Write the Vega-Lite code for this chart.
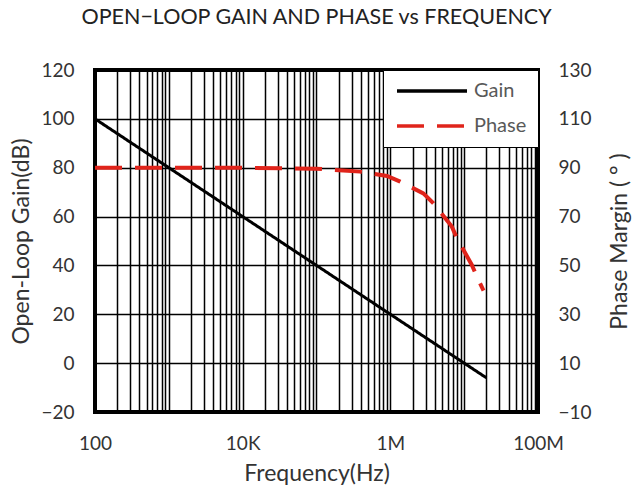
{
  "$schema": "https://vega.github.io/schema/vega-lite/v6.json",
  "width": 443,
  "height": 342,
  "autosize": {"type": "none"},
  "padding": {"left": 95, "top": 70, "right": 95, "bottom": 74},
  "background": "white",
  "title": {
    "text": "OPEN−LOOP GAIN AND PHASE vs FREQUENCY",
    "font": "Lato",
    "fontSize": 21.5,
    "fontWeight": "normal",
    "color": "#222222",
    "anchor": "middle",
    "offset": 33
  },
  "datasets": {
    "gain": [
      {"freq": 100, "gain": 100},
      {"freq": 1000, "gain": 80},
      {"freq": 10000, "gain": 60},
      {"freq": 100000, "gain": 40},
      {"freq": 1000000, "gain": 20},
      {"freq": 10000000, "gain": 0},
      {"freq": 20000000, "gain": -6}
    ],
    "phase": [
      {"freq": 100, "phase": 90},
      {"freq": 1000, "phase": 90},
      {"freq": 10000, "phase": 90},
      {"freq": 100000, "phase": 89.6},
      {"freq": 390000, "phase": 88.4},
      {"freq": 900000, "phase": 86.6},
      {"freq": 1360000, "phase": 84.3},
      {"freq": 2800000, "phase": 79.5},
      {"freq": 3840000, "phase": 75.4},
      {"freq": 6800000, "phase": 65.9},
      {"freq": 8000000, "phase": 61.1},
      {"freq": 12700000, "phase": 50.2},
      {"freq": 14900000, "phase": 45.4},
      {"freq": 18300000, "phase": 39.7}
    ]
  },
  "layer": [
    {
      "data": {"name": "gain"},
      "mark": {"type": "line", "strokeWidth": 3},
      "encoding": {
        "x": {
          "field": "freq",
          "type": "quantitative",
          "scale": {"type": "log", "domain": [100, 100000000], "nice": false},
          "axis": {
            "title": "Frequency(Hz)",
            "grid": true,
            "values": [100, 200, 300, 400, 500, 600, 700, 800, 900,
                       1000, 2000, 3000, 4000, 5000, 6000, 7000, 8000, 9000,
                       10000, 20000, 30000, 40000, 50000, 60000, 70000, 80000, 90000,
                       100000, 200000, 300000, 400000, 500000, 600000, 700000, 800000, 900000,
                       1000000, 2000000, 3000000, 4000000, 5000000, 6000000, 7000000, 8000000, 9000000,
                       10000000, 20000000, 30000000, 40000000, 50000000, 60000000, 70000000, 80000000, 90000000,
                       100000000],
            "labelExpr": "datum.value == 100 ? '100' : datum.value == 10000 ? '10K' : datum.value == 1000000 ? '1M' : datum.value == 100000000 ? '100M' : ''",
            "labelOverlap": false,
            "labelFlush": false,
            "labelPadding": 22,
            "titlePadding": 9
          }
        },
        "y": {
          "field": "gain",
          "type": "quantitative",
          "scale": {"domain": [-20, 120], "nice": false},
          "axis": {
            "orient": "left",
            "title": "Open-Loop Gain(dB)",
            "values": [-20, 0, 20, 40, 60, 80, 100, 120],
            "grid": true,
            "labelPadding": 21,
            "titlePadding": 7
          }
        },
        "color": {
          "datum": "Gain",
          "scale": {"domain": ["Gain", "Phase"], "range": ["black", "#e0241b"]},
          "legend": {"title": null}
        },
        "strokeDash": {
          "datum": "Gain",
          "scale": {"domain": ["Gain", "Phase"], "range": [[1, 0], [27, 13]]},
          "legend": {"title": null}
        }
      }
    },
    {
      "data": {"name": "phase"},
      "mark": {"type": "line", "strokeWidth": 4},
      "encoding": {
        "x": {"field": "freq", "type": "quantitative"},
        "y": {
          "field": "phase",
          "type": "quantitative",
          "scale": {"domain": [-10, 130], "nice": false},
          "axis": {
            "orient": "right",
            "title": "Phase Margin ( ° )",
            "titleAngle": 270,
            "values": [-10, 10, 30, 50, 70, 90, 110, 130],
            "grid": false,
            "labelPadding": 20,
            "titlePadding": 40
          }
        },
        "color": {"datum": "Phase"},
        "strokeDash": {"datum": "Phase"}
      }
    }
  ],
  "resolve": {"scale": {"y": "independent"}},
  "config": {
    "view": {"stroke": "black", "strokeWidth": 4},
    "font": "Lato",
    "axis": {
      "domain": false,
      "ticks": false,
      "labelFont": "Lato",
      "labelFontSize": 19,
      "labelColor": "#333333",
      "titleFont": "Lato",
      "titleFontSize": 23,
      "titleFontWeight": "normal",
      "titleColor": "#333333",
      "gridColor": "black",
      "gridOpacity": 1,
      "gridWidth": 1.5
    },
    "legend": {
      "orient": "top-right",
      "offset": 0,
      "fillColor": "white",
      "strokeColor": "black",
      "padding": 11,
      "symbolType": "M-1,0H9",
      "symbolSize": 196,
      "symbolStrokeWidth": 3.5,
      "labelFont": "Lato",
      "labelFontSize": 20,
      "labelColor": "#595959",
      "labelOffset": 60,
      "rowPadding": 15
    }
  }
}
